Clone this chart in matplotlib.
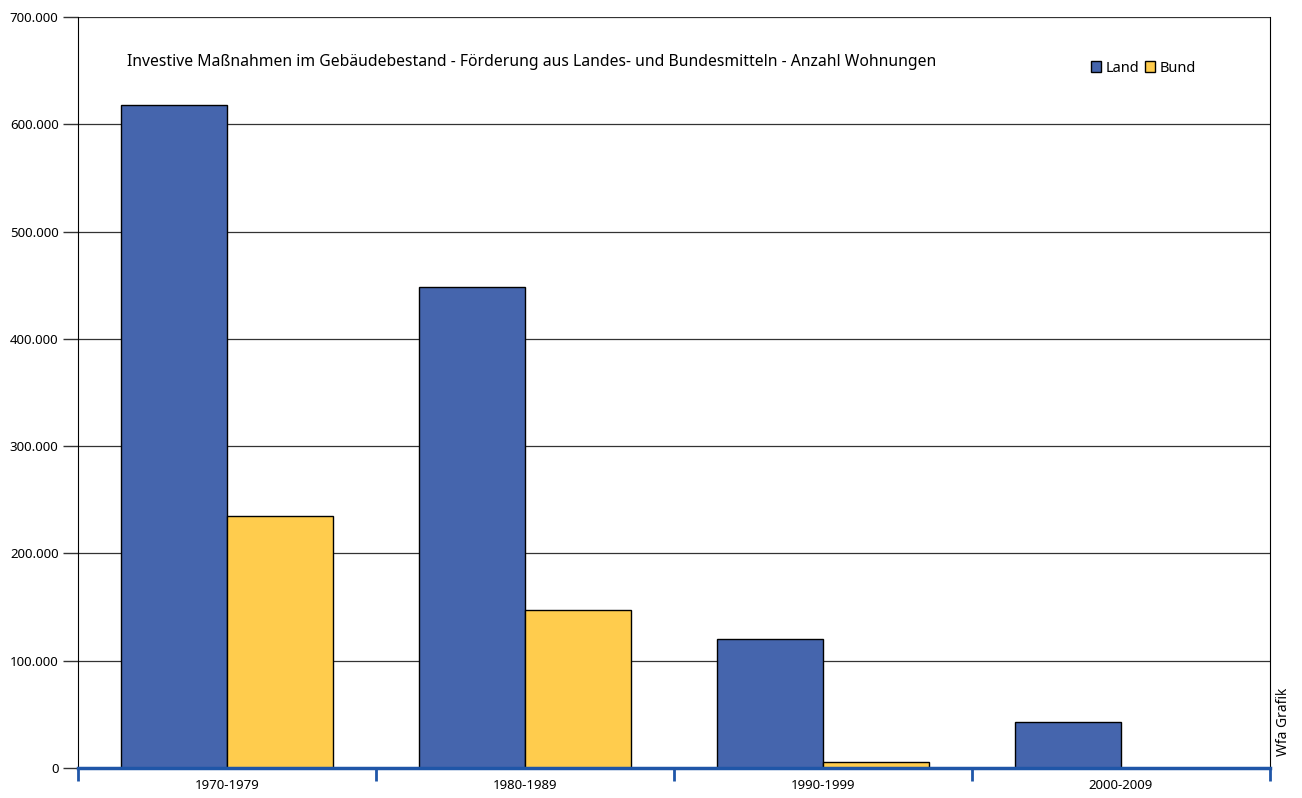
import matplotlib.pyplot as plt
import numpy as np
from matplotlib.ticker import FuncFormatter, FixedLocator
from matplotlib.patches import Patch

plt.rcParams['font.family'] = ['Noto Sans', 'DejaVu Sans']

# Daten
zeitraeume = ['1970-1979', '1980-1989', '1990-1999', '2000-2009']
land = [618000, 448000, 120000, 43000]
bund = [235000, 147000, 5500, 0]

farbe_land = '#4565ad'
farbe_bund = '#ffcc4d'
blau_achse = '#1f56a8'

fig = plt.figure(figsize=(13.02, 7.98), dpi=100)
ax = fig.add_axes([0.0599, 0.0376, 0.9155, 0.9411])

x = np.arange(len(zeitraeume))
breite = 0.355
ax.bar(x - breite / 2, land, breite, color=farbe_land, edgecolor='black', linewidth=1, zorder=3)
ax.bar(x + breite / 2, bund, breite, color=farbe_bund, edgecolor='black', linewidth=1, zorder=3)

ax.set_xlim(-0.5, len(zeitraeume) - 0.5)
ax.set_ylim(0, 700000)
ax.set_yticks(np.arange(0, 700001, 100000))
ax.yaxis.set_major_formatter(FuncFormatter(lambda v, p: f'{int(v):,}'.replace(',', '.')))
ax.yaxis.grid(True, color='#333333', linewidth=0.9, zorder=0)

# x-Achse: Beschriftung in der Mitte, Striche an den Grenzen
ax.set_xticks(x)
ax.set_xticklabels(zeitraeume, fontsize=9.5)
ax.tick_params(axis='x', length=0, pad=8)
ax.xaxis.set_minor_locator(FixedLocator(np.arange(-0.5, len(zeitraeume), 1.0)))
ax.tick_params(axis='x', which='minor', length=9, width=2, color=blau_achse, direction='out')
ax.tick_params(axis='y', length=11, width=1, color='#333333', labelsize=9.5, pad=3)

ax.spines['bottom'].set_color(blau_achse)
ax.spines['bottom'].set_linewidth(2.5)
ax.spines['bottom'].set_zorder(4)
ax.spines['top'].set_visible(False)
ax.spines['left'].set_color('black')
ax.spines['right'].set_color('black')

ax.text(0.041, 0.940, 'Investive Maßnahmen im Gebäudebestand - Förderung aus Landes- und Bundesmitteln - Anzahl Wohnungen',
        transform=ax.transAxes, fontsize=11.3, va='center', ha='left')

handles = [Patch(facecolor=farbe_land, edgecolor='black'), Patch(facecolor=farbe_bund, edgecolor='black')]
ax.legend(handles, ['Land', 'Bund'], loc='center left', bbox_to_anchor=(0.8385, 0.932), ncol=2,
          frameon=False, fontsize=10.5, handlelength=0.7, handleheight=0.7, handletextpad=0.3,
          columnspacing=0.4)

fig.text(0.9855, 0.096, 'Wfa Grafik', rotation=90, fontsize=10, ha='center', va='center')

fig.savefig('out.png', dpi=100)
